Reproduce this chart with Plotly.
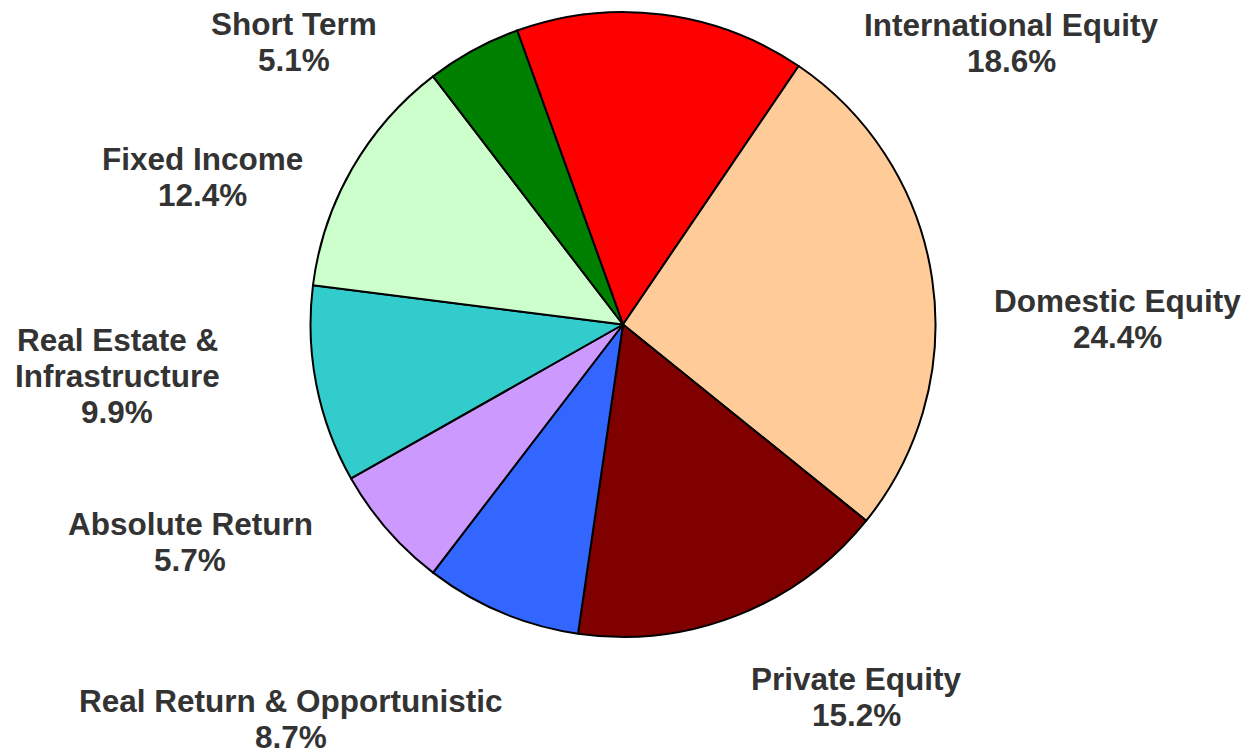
import plotly.graph_objects as go

# ---- data ----
categories = ["International Equity", "Domestic Equity", "Private Equity",
              "Real Return & Opportunistic", "Absolute Return",
              "Real Estate &<br>Infrastructure", "Fixed Income", "Short Term"]
# slice sizes as drawn in the picture (measured angles, percent)
slice_values = [15.0, 26.3, 16.5, 8.1, 6.4, 10.2, 12.6, 4.9]
# percentages printed in the labels
label_pct = [18.6, 24.4, 15.2, 8.7, 5.7, 9.9, 12.4, 5.1]
colors = ["#FF0000", "#FFCC99", "#800000", "#3366FF", "#CC99FF",
          "#33CCCC", "#CCFFCC", "#008000"]

# ---- layout (positions in screen pixels; page body has an 8px margin) ----
OFF = 8
W, H = 1253 - OFF, 752 - OFF
label_px = [(1011, 43), (1117, 319), (857, 697), (291, 719),
            (190, 542), (117, 376), (202, 177), (294, 42)]
LINE = 36
cx, cy, r = 623 - OFF, 324.5 - OFF, 312.5

fig = go.Figure(go.Pie(
    labels=[c.replace("<br>", " ") for c in categories],
    values=slice_values,
    sort=False,
    direction="clockwise",
    rotation=-19.8,
    marker=dict(colors=colors, line=dict(color="#000000", width=2)),
    textinfo="none",
    hoverinfo="label+percent",
    showlegend=False,
    domain=dict(x=[(cx - r) / W, (cx + r) / W], y=[1 - (cy + r) / H, 1 - (cy - r) / H]),
))

annotations = []
for cat, pct, (px, py) in zip(categories, label_pct, label_px):
    lines = cat.split("<br>") + [f"{pct:.1f}%"]
    n = len(lines)
    for i, ln in enumerate(lines):
        yy = py - OFF + (i - (n - 1) / 2) * LINE
        annotations.append(dict(
            text=ln,
            x=(px - OFF) / W, y=1 - yy / H, xref="paper", yref="paper",
            xanchor="center", yanchor="middle", showarrow=False,
            font=dict(family="Liberation Sans, Arial, sans-serif", size=31.5,
                      color="#333333", weight="bold"),
            align="center",
        ))

fig.update_layout(
    width=W, height=H,
    margin=dict(l=0, r=0, t=0, b=0),
    paper_bgcolor="white", plot_bgcolor="white",
    annotations=annotations,
)

fig.write_html("out.html")
